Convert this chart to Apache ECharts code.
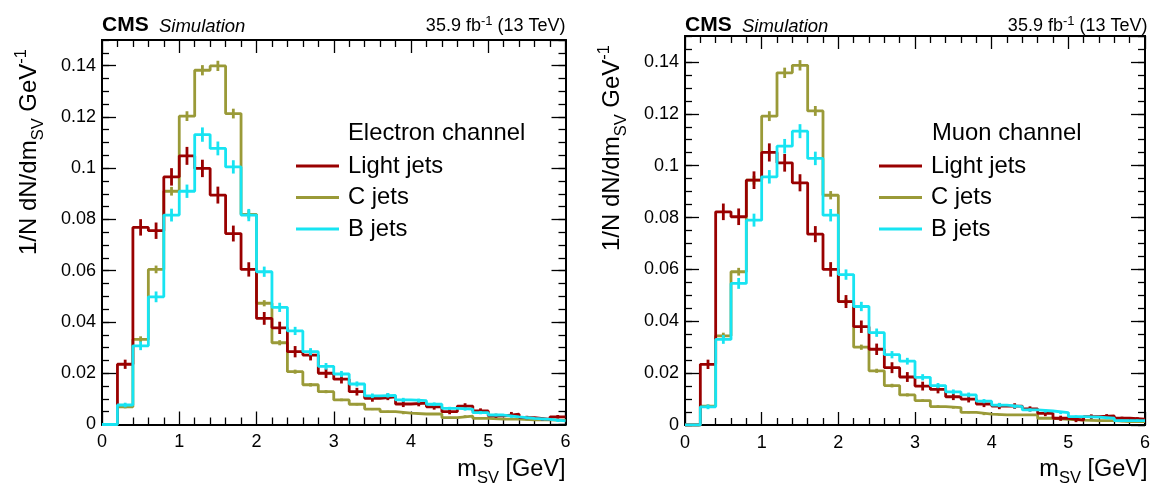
<!DOCTYPE html>
<html>
<head>
<meta charset="utf-8">
<script src="https://cdn.jsdelivr.net/npm/echarts@6/dist/echarts.min.js"></script>
<style>
html,body{margin:0;padding:0;background:#fff;}
#chart{width:1153px;height:489px;}
</style>
</head>
<body>
<div id="chart"></div>
<script>
// ---- data ----
const binEdges = [0.0,0.2,0.4,0.6,0.8,1.0,1.2,1.4,1.6,1.8,2.0,2.2,2.4,2.6,2.8,3.0,3.2,3.4,3.6,3.8,4.0,4.2,4.4,4.6,4.8,5.0,5.2,5.4,5.6,5.8,6.0];
const flavours = ['Light jets','C jets','B jets'];
const channels = ['Electron channel','Muon channel'];
const xTicks = [0,1,2,3,4,5,6];
const yTicks = [0,0.02,0.04,0.06,0.08,0.1,0.12,0.14];

// Electron channel
const eleLight = [0,0.0235,0.0769,0.0756,0.0966,0.1048,0.0999,0.0895,0.0745,0.0605,0.0414,0.0377,0.0284,0.0271,0.0200,0.0177,0.0128,0.0102,0.0108,0.0080,0.0083,0.0069,0.0050,0.0072,0.0053,0.0034,0.0040,0.0027,0.0020,0.0030];
const eleC     = [0,0.0069,0.0332,0.0605,0.0910,0.1203,0.1382,0.1399,0.1213,0.0820,0.0473,0.0319,0.0206,0.0155,0.0128,0.0096,0.0079,0.0060,0.0050,0.0044,0.0041,0.0041,0.0027,0.0033,0.0024,0.0021,0.0021,0.0018,0.0018,0.0016];
const eleB     = [0,0.0076,0.0307,0.0498,0.0817,0.0910,0.1131,0.1077,0.1005,0.0817,0.0596,0.0457,0.0365,0.0284,0.0227,0.0197,0.0158,0.0112,0.0114,0.0096,0.0093,0.0079,0.0063,0.0060,0.0046,0.0037,0.0030,0.0024,0.0020,0.0014];
// Muon channel
const muLight  = [0,0.0234,0.0822,0.0803,0.0944,0.1051,0.1011,0.0934,0.0736,0.0600,0.0476,0.0379,0.0292,0.0221,0.0185,0.0150,0.0137,0.0109,0.0100,0.0081,0.0073,0.0073,0.0062,0.0045,0.0026,0.0019,0.0032,0.0035,0.0026,0.0023];
const muC      = [0,0.0073,0.0344,0.0591,0.0944,0.1191,0.1358,0.1387,0.1211,0.0886,0.0476,0.0300,0.0209,0.0152,0.0116,0.0094,0.0071,0.0067,0.0049,0.0042,0.0039,0.0039,0.0039,0.0026,0.0022,0.0019,0.0017,0.0017,0.0013,0.0013];
const muB      = [0,0.0070,0.0330,0.0546,0.0790,0.0957,0.1075,0.1133,0.1028,0.0809,0.0580,0.0457,0.0356,0.0271,0.0246,0.0184,0.0152,0.0128,0.0116,0.0092,0.0077,0.0071,0.0058,0.0054,0.0048,0.0032,0.0030,0.0026,0.0017,0.0017];
// statistical uncertainties (half length of the vertical bars)
const lightErr = [0,0.0018,0.0032,0.0032,0.0034,0.0035,0.0034,0.0033,0.0031,0.0028,0.0025,0.0024,0.0022,0.0021,0.0019,0.0017,0.0015,0.0013,0.0013,0.0012,0.0012,0.0011,0.0010,0.0011,0.0010,0.0008,0.0009,0.0007,0.0006,0.0007];
const cErr     = [0,0.0006,0.0012,0.0015,0.0017,0.0019,0.0020,0.0020,0.0019,0.0016,0.0012,0.0010,0.0008,0.0007,0.0006,0.0005,0.0005,0.0004,0.0004,0.0004,0.0003,0.0003,0.0003,0.0003,0.0003,0.0002,0.0002,0.0002,0.0002,0.0002];
const bErr     = [0,0.0009,0.0017,0.0021,0.0025,0.0026,0.0028,0.0027,0.0026,0.0024,0.0020,0.0018,0.0016,0.0014,0.0013,0.0012,0.0010,0.0009,0.0009,0.0008,0.0008,0.0007,0.0006,0.0006,0.0006,0.0005,0.0004,0.0004,0.0004,0.0004];

// ---- styling ----
const COLORS = {'Light jets':'#990000','C jets':'#9a9a38','B jets':'#17e4f2'};
const FONT = 'Liberation Sans, Arial, Helvetica, sans-serif';
const LW = 2.8;

function stepData(vals){
  const d = vals.map((v,i)=>[binEdges[i], v]);
  d.push([binEdges[vals.length], vals[vals.length-1]]);
  return d;
}
function errData(vals, errs){
  return vals.map((v,i)=>[(binEdges[i]+binEdges[i+1])/2, v, errs[i]]);
}

const grids = [
  {left:102, top:40, right:587.5, bottom:64.5},
  {left:685, top:36, right:6, bottom:64}
];

const xAxes = [], yAxes = [];
grids.forEach((g,gi)=>{
  const base = {gridIndex:gi, type:'value', min:xTicks[0], max:xTicks[xTicks.length-1], interval:1,
    splitLine:{show:false}, minorSplitLine:{show:false},
    axisLine:{show:true, onZero:false, lineStyle:{color:'#000', width:2}},
    axisTick:{show:true, inside:true, length:13, lineStyle:{color:'#000', width:1.3}},
    minorTick:{show:true, splitNumber:5, length:7, lineStyle:{color:'#000', width:1.3}}};
  xAxes.push(Object.assign({}, base, {position:'bottom',
    axisLabel:{show:true, margin:9, color:'#000', fontSize:18, fontFamily:FONT}}));
  xAxes.push(Object.assign({}, base, {position:'top', axisLabel:{show:false}}));
  const ybase = {gridIndex:gi, type:'value', min:0, max:0.15, splitLine:{show:false},
    axisLine:{show:true, onZero:false, lineStyle:{color:'#000', width:2}}};
  yAxes.push(Object.assign({}, ybase, {position:'left', interval:0.02,
    axisTick:{show:true, inside:true, length:14, lineStyle:{color:'#000', width:1.3}},
    axisLabel:{show:true, margin:6, color:'#000', fontSize:18, fontFamily:FONT, showMaxLabel:false,
      formatter:function(v){ return yTicks.some(t=>Math.abs(t-v)<1e-9) ? String(+v.toFixed(2)) : ''; }}}));
  yAxes.push(Object.assign({}, ybase, {position:'left', interval:0.005,
    axisTick:{show:true, inside:true, length:7, lineStyle:{color:'#000', width:1.3}},
    axisLabel:{show:false}}));
  yAxes.push(Object.assign({}, ybase, {position:'right', interval:0.02,
    axisTick:{show:true, inside:true, length:14, lineStyle:{color:'#000', width:1.3}},
    axisLabel:{show:false}}));
  yAxes.push(Object.assign({}, ybase, {position:'right', interval:0.005,
    axisTick:{show:true, inside:true, length:7, lineStyle:{color:'#000', width:1.3}},
    axisLabel:{show:false}}));
});

const panels = [
  {'Light jets':eleLight, 'C jets':eleC, 'B jets':eleB},
  {'Light jets':muLight, 'C jets':muC, 'B jets':muB}
];
const errs = {'Light jets':lightErr, 'C jets':cErr, 'B jets':bErr};
const drawOrder = ['C jets','Light jets','B jets'];

const series = [];
panels.forEach((p,gi)=>{
  drawOrder.forEach((name,k)=>{
    const col = COLORS[name];
    series.push({
      name:name, type:'line', step:'end', xAxisIndex:gi*2, yAxisIndex:gi*4,
      data:stepData(p[name]), symbol:'none', color:col,
      lineStyle:{color:col, width:LW}, itemStyle:{color:col},
      z:2+k, animation:false, emphasis:{disabled:true}
    });
    series.push({
      name:name+' err', type:'custom', xAxisIndex:gi*2, yAxisIndex:gi*4,
      data:errData(p[name], errs[name]), z:2+k, animation:false, silent:true,
      renderItem:function(params, api){
        const c = api.value(0), v = api.value(1), e = api.value(2);
        if (!(e > 0)) return null;
        const a = api.coord([c, v+e]), b = api.coord([c, v-e]);
        return {type:'line', shape:{x1:a[0], y1:a[1], x2:b[0], y2:b[1]},
          style:{stroke:col, lineWidth:LW}};
      }
    });
  });
});

function legendAt(left){
  return {data:flavours, orient:'vertical', left:left, top:154, padding:0,
    icon:'rect', itemWidth:43, itemHeight:3, itemGap:7.5, selectedMode:false,
    textStyle:{fontSize:23.8, fontFamily:FONT, color:'#000', lineHeight:24, padding:[0,0,0,4]}};
}

function txt(x,y,text,opt){
  return {type:'text', x:x, y:y, silent:true, z:100,
    rotation: opt.rotation || 0,
    style:Object.assign({text:text, fill:'#000', fontFamily:FONT}, opt.style)};
}
const richSubSup = {
  sub:{fontSize:16.5, fontFamily:FONT, verticalAlign:'bottom', lineHeight:18},
  sup:{fontSize:16.5, fontFamily:FONT, verticalAlign:'top', lineHeight:18}
};
const richSup12 = {sup:{fontSize:13, fontFamily:FONT, verticalAlign:'top', lineHeight:13}};

const graphics = [];
const frameInfo = [
  {x0:102, x1:565.5, ytTop:49, ytX:29.5, legendX:348},
  {x0:685, x1:1147.5, ytTop:45, ytX:612.5, legendX:932}
];
frameInfo.forEach((f,gi)=>{
  graphics.push(txt(f.x0, 25, 'CMS', {style:{fontSize:21, fontWeight:'bold', align:'left', verticalAlign:'middle'}}));
  graphics.push(txt(f.x0+57, 26.5, 'Simulation', {style:{fontSize:18.5, fontStyle:'italic', align:'left', verticalAlign:'middle'}}));
  graphics.push(txt(f.x1, 26.5, '35.9 fb{sup|-1} (13 TeV)', {style:{fontSize:18, align:'right', verticalAlign:'middle', lineHeight:24, rich:richSup12}}));
  graphics.push(txt(f.x1, 470, 'm{sub|SV} [GeV]', {style:{fontSize:23.5, align:'right', verticalAlign:'middle', lineHeight:34, rich:richSubSup}}));
  graphics.push(txt(f.ytX, f.ytTop, '1/N dN/dm{sub|SV} GeV{sup|-1}', {rotation:Math.PI/2,
    style:{fontSize:24, align:'right', verticalAlign:'middle', lineHeight:34, rich:richSubSup}}));
  graphics.push(txt(f.legendX, 133, channels[gi], {style:{fontSize:23.8, align:'left', verticalAlign:'middle'}}));
});

const chart = echarts.init(document.getElementById('chart'), null, {renderer:'canvas'});
chart.setOption({
  animation:false,
  backgroundColor:'#fff',
  grid:grids,
  xAxis:xAxes,
  yAxis:yAxes,
  legend:[legendAt(296), legendAt(879)],
  series:series,
  graphic:graphics
});
</script>
</body>
</html>
